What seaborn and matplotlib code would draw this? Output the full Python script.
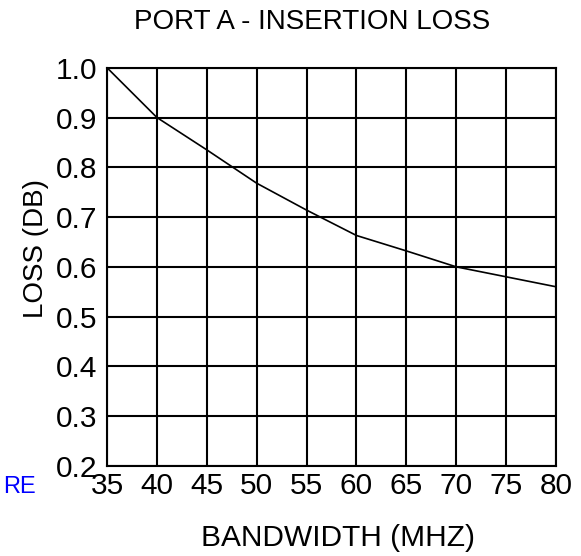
import matplotlib
matplotlib.use("Agg")
import matplotlib.pyplot as plt
import seaborn as sns
import pandas as pd

# === Data ===
bandwidth_mhz = [35, 40, 45, 50, 55, 60, 65, 70, 75, 80]
loss_db = [1.0, 0.9, 0.835, 0.768, 0.714, 0.663, 0.632, 0.600, 0.580, 0.560]
x_ticks = [35, 40, 45, 50, 55, 60, 65, 70, 75, 80]
y_ticks = [0.2, 0.3, 0.4, 0.5, 0.6, 0.7, 0.8, 0.9, 1.0]

df = pd.DataFrame({"bandwidth": bandwidth_mhz, "loss": loss_db})

sns.set_style("white")
plt.rcParams["font.family"] = ["Liberation Sans", "DejaVu Sans"]
plt.rcParams["text.color"] = "black"
plt.rcParams["axes.labelcolor"] = "black"

fig = plt.figure(figsize=(5.81, 5.56), dpi=100)
ax = fig.add_axes([0.1842, 0.1619, 0.7728, 0.7163])

sns.lineplot(data=df, x="bandwidth", y="loss", color="black", linewidth=1.2, ax=ax)

ax.set_xlim(35, 80)
ax.set_ylim(0.2, 1.0)
ax.set_xticks(x_ticks)
ax.set_yticks(y_ticks)
ax.set_yticklabels([f"{v:.1f}" for v in y_ticks])
ax.tick_params(axis="both", labelsize=21.5, length=0, colors="black")
ax.tick_params(axis="x", pad=4)
ax.tick_params(axis="y", pad=7)
ax.grid(True, color="black", linewidth=1.5)
for sp in ax.spines.values():
    sp.set_color("black")
    sp.set_linewidth(1.5)

ax.set_xlabel("BANDWIDTH (MHZ)", fontsize=21.5)
ax.xaxis.set_label_coords(0.5134, -0.1456)
ax.set_ylabel("LOSS (DB)", fontsize=20)
ax.yaxis.set_label_coords(-0.13, 0.547)
ax.set_title("PORT A - INSERTION LOSS", fontsize=20, x=0.4566, pad=28)

fig.text(3 / 581, 1 - 487 / 556, "RE", color="#0000ff", fontsize=17,
         ha="left", va="center")

fig.savefig("out.png", dpi=100)
